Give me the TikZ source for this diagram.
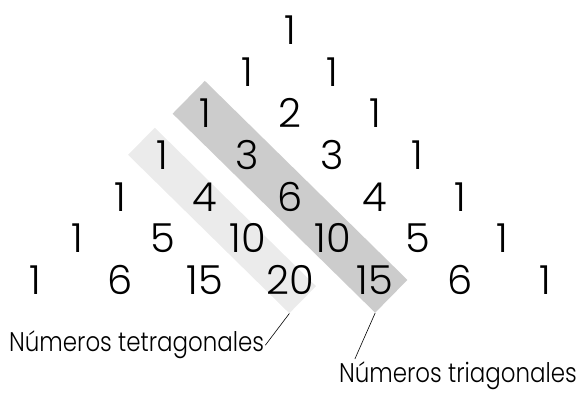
\documentclass[tikz,border=0pt]{standalone}
\usepackage{fontspec}
\setmainfont{Poppins}[UprightFont=* Light]
\newfontfamily\lblfont{Poppins Light}[FakeStretch=0.85]
\usetikzlibrary{backgrounds,calc,positioning}
\tikzset{
  num/.style={font=\fontsize{40}{40}\selectfont, inner sep=0pt},
  band/.style={draw=none, rotate=-44.5, inner sep=0pt},
  lbl/.style={font=\lblfont\fontsize{27}{27}\selectfont, inner sep=1pt},
}

\begin{document}
\begin{tikzpicture}[x=1pt, y=1pt]
\useasboundingbox (0,0) rectangle (578,395);
% Pascal triangle, rows 0..6
\foreach \n in {0,...,6}{
  \foreach \k in {0,...,\n}{
    \pgfmathtruncatemacro{\c}{factorial(\n)/(factorial(\k)*factorial(\n-\k))}
    \node[num] (p-\n-\k) at ({290+(2*\k-\n)*42.5},{365-41.7*\n}) {\c};
  }
}
% Shaded diagonals
\begin{scope}[on background layer]
\node[band, fill=black!20, minimum width=284, minimum height=46]
  (tri) at ($(p-2-0)!0.5!(p-6-4)$) {};
\node[band, fill=black!8, minimum width=226, minimum height=38, xshift=-1, yshift=-5]
  (tetra) at ($(p-3-0)!0.5!(p-6-3)$) {};
\end{scope}
% Labels
\node[lbl, anchor=base west] (ltetra) at (8,43) {Números tetragonales};
\node[lbl, anchor=base east] (ltri) at (578,12) {Números triagonales};
\draw[line width=0.6] (ltetra.east) -- (tetra.south east);
\draw[line width=0.6] ([xshift=17, yshift=2]ltri.north west) -- (tri.south east);
\end{tikzpicture}
\end{document}
